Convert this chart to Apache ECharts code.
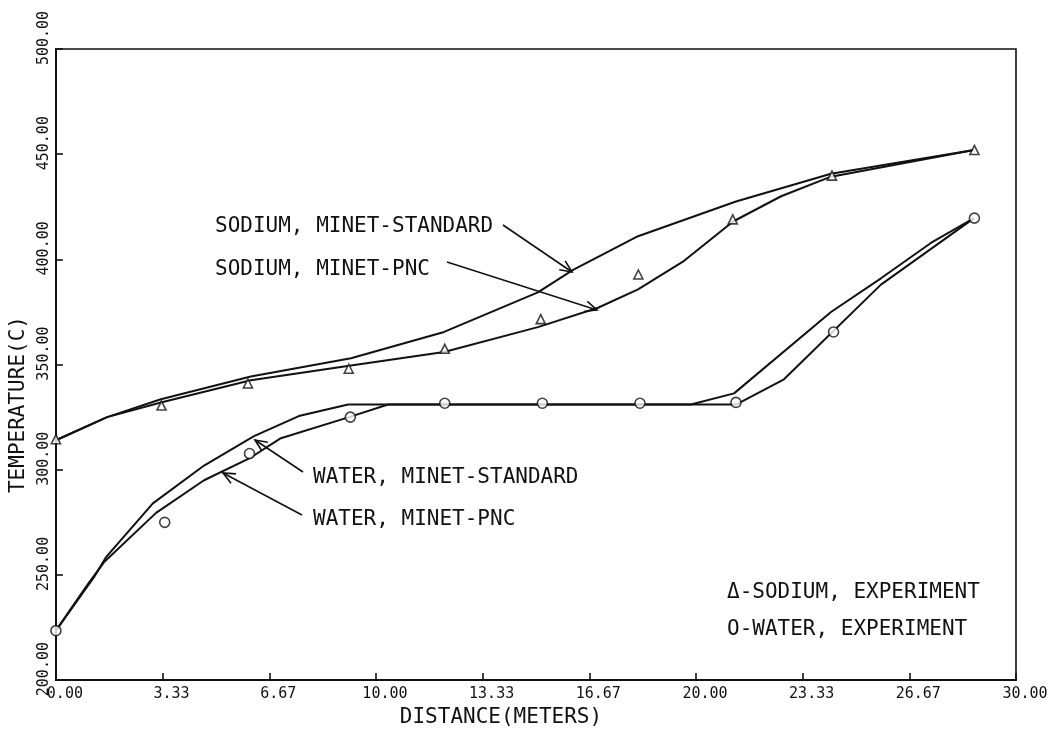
<!DOCTYPE html>
<html><head><meta charset="utf-8">
<script src="https://cdn.jsdelivr.net/npm/echarts@6/dist/echarts.min.js"></script>
<style>html,body{margin:0;padding:0;background:#fff}#c{width:1058px;height:733px}</style>
</head><body><div id="c"></div>
<script>
// ---- data ----
const xTickStep = 10 / 3;
const yTickStep = 50;

const sodiumExpX = [0, 3.3, 6.0, 9.15, 12.15, 15.15, 18.2, 21.15, 24.25, 28.7];
const sodiumExpT = [314.5, 330.5, 341, 348, 357.5, 371.6, 392.8, 419, 439.8, 452];

const waterExpX = [0, 3.4, 6.05, 9.2, 12.15, 15.2, 18.25, 21.25, 24.3, 28.7];
const waterExpT = [223.5, 275, 307.7, 325, 331.6, 331.6, 331.6, 332, 365.5, 419.6];

const sodiumStdX = [0, 1.6, 3.28, 6.09, 9.22, 12.13, 15.06, 16.16, 18.19, 21.25, 24.22, 28.69];
const sodiumStdT = [314, 325, 333.5, 344.3, 353, 365.5, 384.3, 395, 411, 427.5, 440.7, 452];

const sodiumPncX = [0, 1.6, 3.28, 6.09, 9.22, 12.13, 15.06, 16.94, 18.19, 19.63, 21.16, 22.66, 24.22, 28.69];
const sodiumPncT = [314, 325, 332, 342.5, 349.5, 356, 367.8, 377, 385.7, 399.3, 418, 430, 439.3, 452];

const waterStdX = [0, 1.19, 1.56, 3.03, 4.63, 6.19, 7.59, 9.13, 19.84, 21.19, 24.22, 25.78, 27.34, 28.69];
const waterStdT = [223.5, 248.9, 258.3, 284, 302, 316, 325.5, 331, 331, 336.3, 375, 391, 407.8, 419.6];

const waterPncX = [0, 1.0, 1.5, 3.13, 4.63, 6.09, 7.03, 9.16, 10.38, 21.25, 22.75, 25.78, 28.69];
const waterPncT = [223.5, 245.6, 256, 279.5, 295, 305.8, 315, 325, 331, 331, 343, 388, 419.6];

const annotations = [
  { text: 'SODIUM, MINET-STANDARD', x: 215, y: 227 },
  { text: 'SODIUM, MINET-PNC', x: 215, y: 270 },
  { text: 'WATER, MINET-STANDARD', x: 313, y: 478 },
  { text: 'WATER, MINET-PNC', x: 313, y: 520 },
  { text: '\u0394-SODIUM, EXPERIMENT', x: 727, y: 593 },
  { text: 'O-WATER, EXPERIMENT', x: 727, y: 630 }
];
const arrows = [
  [[503, 225], [572, 272]],
  [[447, 262], [597, 310]],
  [[303, 472], [255, 440]],
  [[302, 515], [223, 473]]
];

// ---- build ----
const zip = (xs, ys) => xs.map((x, i) => [x, ys[i]]);
const FONT = '"DejaVu Sans Mono", "Liberation Mono", monospace';
const lineStyle = { color: '#111', width: 2 };

const graphic = [];
annotations.forEach(a => {
  graphic.push({
    type: 'text', x: a.x, y: a.y, z: 50,
    style: { text: a.text, fill: '#111', font: '21px ' + FONT, verticalAlign: 'middle', align: 'left' }
  });
});
arrows.forEach(([p0, p1]) => {
  const dx = p1[0] - p0[0], dy = p1[1] - p0[1];
  const len = Math.hypot(dx, dy);
  const ux = dx / len, uy = dy / len;
  const L = 13, ang = 0.42;
  const back = (s) => [
    p1[0] - L * (ux * Math.cos(s * ang) - uy * Math.sin(s * ang)),
    p1[1] - L * (uy * Math.cos(s * ang) + ux * Math.sin(s * ang))
  ];
  graphic.push({ type: 'polyline', z: 50, shape: { points: [p0, p1] }, style: { stroke: '#111', lineWidth: 1.6, fill: null } });
  graphic.push({ type: 'polyline', z: 50, shape: { points: [back(1), p1, back(-1)] }, style: { stroke: '#111', lineWidth: 1.6, fill: null } });
});

const chart = echarts.init(document.getElementById('c'), null, { renderer: 'canvas' });
chart.setOption({
  backgroundColor: '#fff',
  animation: false,
  grid: { left: 55, right: 42, top: 49, bottom: 46, show: true, borderColor: '#111', borderWidth: 1.6, backgroundColor: 'transparent' },
  xAxis: {
    type: 'value', min: 0, max: 30, interval: xTickStep,
    name: 'DISTANCE(METERS)', nameLocation: 'middle', nameGap: 21,
    nameTextStyle: { fontFamily: FONT, fontSize: 21, color: '#111', padding: [0, 70, 0, 0] },
    axisLine: { show: true, lineStyle: { color: '#111', width: 2 } },
    axisTick: { show: true, inside: true, length: 7, lineStyle: { color: '#111', width: 1.6 } },
    axisLabel: { fontFamily: FONT, fontSize: 15, color: '#111', margin: 7, padding: [0, 0, 0, 18],
      formatter: v => v.toFixed(2) },
    splitLine: { show: false }
  },
  yAxis: {
    type: 'value', min: 200, max: 500, interval: yTickStep,
    name: 'TEMPERATURE(C)', nameLocation: 'middle', nameGap: 26,
    nameTextStyle: { fontFamily: FONT, fontSize: 21, color: '#111', padding: [0, 80, 0, 0] },
    axisLine: { show: true, lineStyle: { color: '#111', width: 2 } },
    axisTick: { show: true, inside: true, length: 7, lineStyle: { color: '#111', width: 1.6 } },
    axisLabel: { fontFamily: FONT, fontSize: 15, color: '#111', margin: 4, rotate: 90, padding: [0, 0, 0, 22],
      formatter: v => v.toFixed(2) },
    splitLine: { show: false }
  },
  series: [
    { name: 'Sodium, MINET-Standard', type: 'line', data: zip(sodiumStdX, sodiumStdT), symbol: 'none', lineStyle, z: 2 },
    { name: 'Sodium, MINET-PNC', type: 'line', data: zip(sodiumPncX, sodiumPncT), symbol: 'none', lineStyle, z: 2 },
    { name: 'Water, MINET-Standard', type: 'line', data: zip(waterStdX, waterStdT), symbol: 'none', lineStyle, z: 2 },
    { name: 'Water, MINET-PNC', type: 'line', data: zip(waterPncX, waterPncT), symbol: 'none', lineStyle, z: 2 },
    { name: 'Sodium, Experiment', type: 'scatter', data: zip(sodiumExpX, sodiumExpT), symbol: 'triangle', symbolSize: 9,
      itemStyle: { color: '#fff', borderColor: '#111', borderWidth: 1.6 }, z: 5 },
    { name: 'Water, Experiment', type: 'scatter', data: zip(waterExpX, waterExpT), symbol: 'circle', symbolSize: 10,
      itemStyle: { color: '#fff', borderColor: '#111', borderWidth: 1.6 }, z: 5 }
  ],
  graphic: graphic
});
</script>
</body></html>
